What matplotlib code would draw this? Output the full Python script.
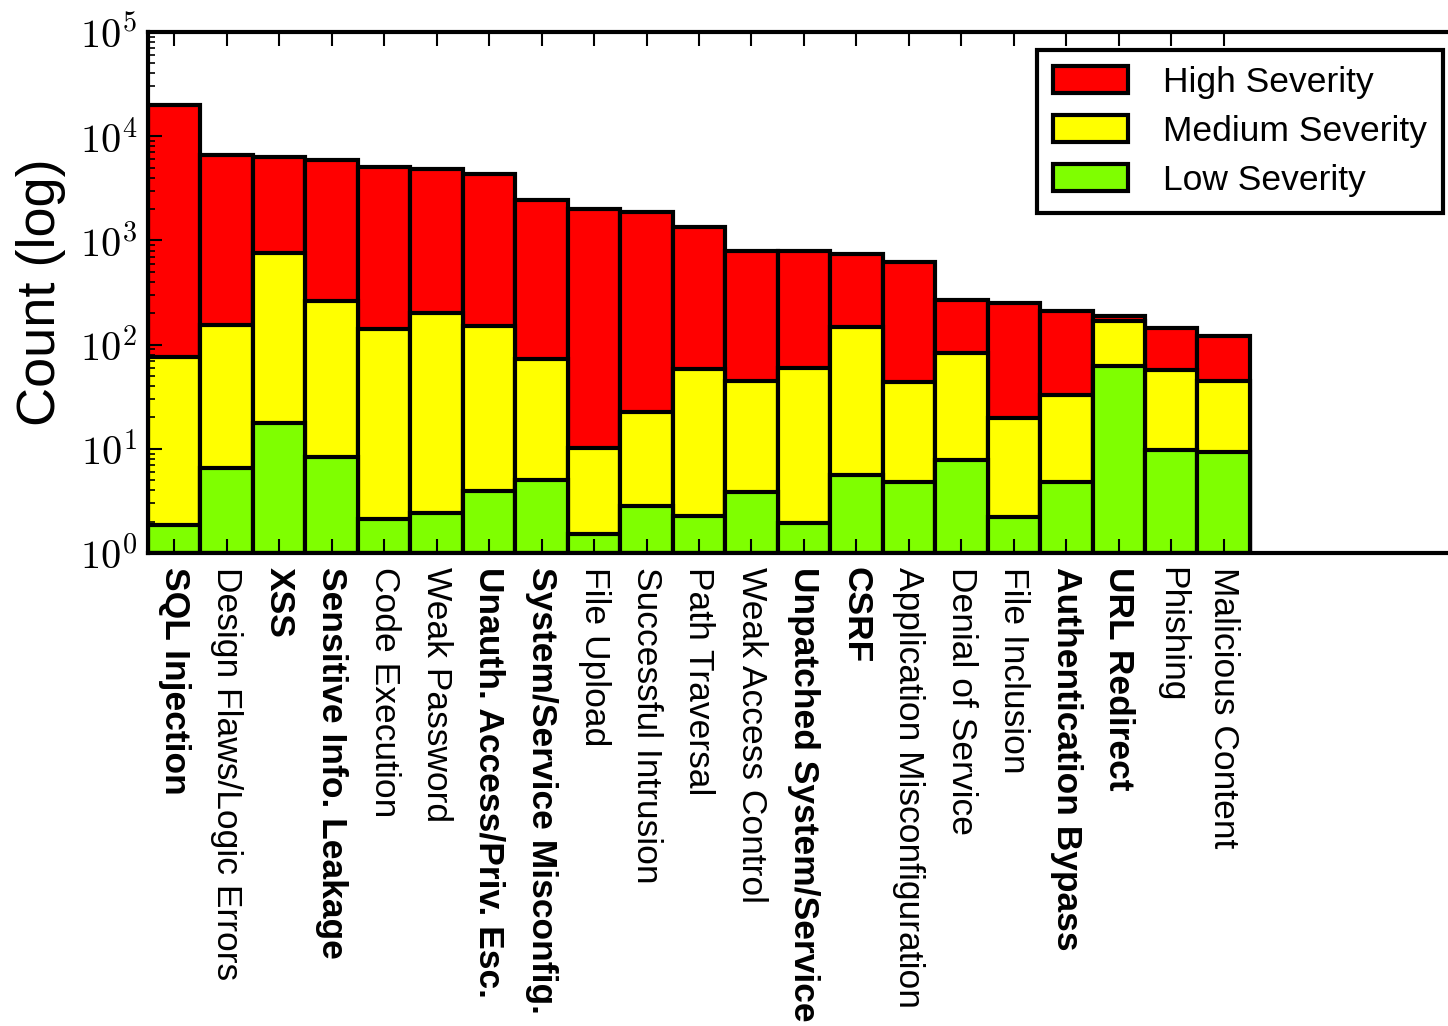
import numpy as np
import matplotlib
matplotlib.use("Agg")
import matplotlib.pyplot as plt
from matplotlib.ticker import FixedLocator, FuncFormatter, LogLocator

plt.rcParams['font.family'] = ['Liberation Sans', 'DejaVu Sans']
plt.rcParams['mathtext.fontset'] = 'cm'

categories = ["SQL Injection", "Design Flaws/Logic Errors", "XSS",
              "Sensitive Info. Leakage", "Code Execution", "Weak Password",
              "Unauth. Access/Priv. Esc.", "System/Service Misconfig.",
              "File Upload", "Successful Intrusion", "Path Traversal",
              "Weak Access Control", "Unpatched System/Service", "CSRF",
              "Application Misconfiguration", "Denial of Service",
              "File Inclusion", "Authentication Bypass", "URL Redirect",
              "Phishing", "Malicious Content"]
bold = [1, 0, 1, 1, 0, 0, 1, 1, 0, 0, 0, 0, 1, 1, 0, 0, 0, 1, 1, 0, 0]

# cumulative heights: low, low+medium, total
low = [1.86, 6.5, 17.7, 8.3, 2.1, 2.4, 3.9, 5.0, 1.52, 2.8, 2.26,
       3.85, 1.94, 5.6, 4.8, 7.8, 2.2, 4.8, 63, 9.7, 9.3]
medium = [76, 155, 760, 262, 141, 200, 151, 73, 10.2, 22.5, 58,
          45, 60, 148, 44, 83, 19.7, 33, 168, 57, 45]
high = [20000, 6600, 6300, 5900, 5050, 4870, 4360, 2450, 2000, 1870, 1350,
        790, 790, 740, 620, 268, 250, 210, 188, 144, 121]

fig = plt.figure(figsize=(14.48, 10.26), dpi=100)
ax = fig.add_axes([0.1022, 0.461, 0.906, 0.5078])

x = np.arange(len(categories))
lw = 3
ax.bar(x, np.array(high) - 1, bottom=1, width=1, align='edge', color='#ff0000',
       edgecolor='black', linewidth=lw, label='High Severity')
ax.bar(x, np.array(medium) - 1, bottom=1, width=1, align='edge', color='#ffff00',
       edgecolor='black', linewidth=lw, label='Medium Severity')
ax.bar(x, np.array(low) - 1, bottom=1, width=1, align='edge', color='#7fff00',
       edgecolor='black', linewidth=lw, label='Low Severity')

ax.set_yscale('log')
ax.set_ylim(1, 1e5)
ax.set_xlim(0, 25)
ax.yaxis.set_major_locator(LogLocator(base=10, numticks=10))
ax.yaxis.set_minor_locator(LogLocator(base=10, subs=np.arange(2, 10), numticks=10))
ax.yaxis.set_major_formatter(FuncFormatter(lambda v, p: r'$10^{%d}$' % round(np.log10(v))))
ax.xaxis.set_major_locator(FixedLocator(x + 0.5))
ax.set_xticklabels(categories, rotation=-90, fontsize=25.5, va='top', ha='center')
for lab, b in zip(ax.get_xticklabels(), bold):
    if b:
        lab.set_fontweight('bold')

ax.tick_params(axis='both', which='both', direction='in', top=True, right=False)
ax.tick_params(axis='x', length=10, width=1.5, pad=10)
ax.tick_params(axis='y', which='major', length=10, width=1.5, labelsize=29, pad=8)
ax.tick_params(axis='y', which='minor', length=5, width=1.2)
for s in ax.spines.values():
    s.set_linewidth(3)

ax.set_ylabel('Count (log)', fontsize=39, labelpad=10)

leg = ax.legend(loc='upper right', bbox_to_anchor=(0.9965, 0.951),
                bbox_transform=fig.transFigure, fontsize=25.5, fancybox=False,
                handlelength=2.1, handleheight=0.8, borderpad=0.45,
                borderaxespad=0, labelspacing=0.45, handletextpad=1.0,
                framealpha=1)
leg.get_frame().set_edgecolor('black')
leg.get_frame().set_linewidth(3)

fig.savefig('out.png', dpi=100)
